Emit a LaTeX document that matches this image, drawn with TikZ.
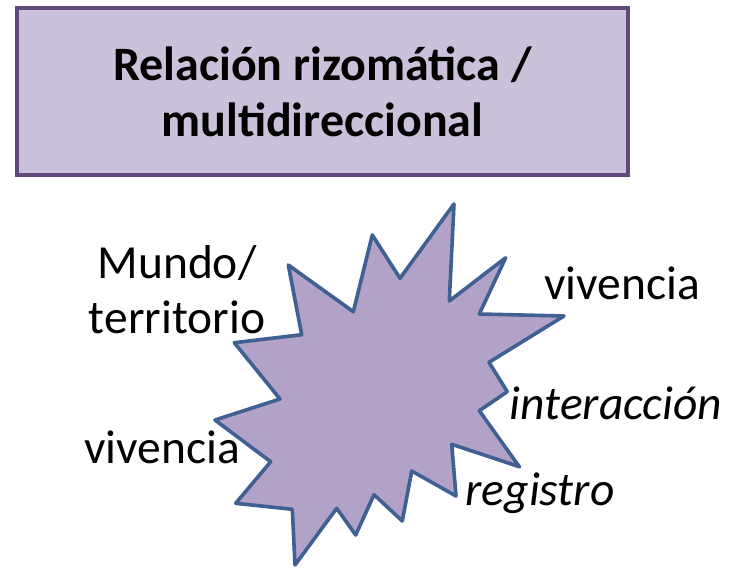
\documentclass[tikz,border=0pt]{standalone}
\usepackage{fontspec}
\setmainfont{Carlito}
\definecolor{boxfill}{HTML}{CCC1DA}
\definecolor{boxline}{HTML}{604A7B}
\definecolor{starfill}{HTML}{B3A2C7}
\definecolor{starline}{HTML}{3E6092}
\tikzset{
  lbl/.style={inner sep=0pt, font=\fontsize{47.5}{55}\selectfont, align=center},
  titlebox/.style={draw=boxline, fill=boxfill, line width=4pt, minimum width=611pt, minimum height=167pt, align=center, font=\fontsize{48}{56}\selectfont\bfseries}
}
\begin{document}
\begin{tikzpicture}[x=1pt,y=-1pt]
\useasboundingbox (0,0) rectangle (738,567);
\node[titlebox] (title) at (322.5,91.5) {Relación rizomática /\\multidireccional};
\draw[starline, fill=starfill, line width=3.6pt, line join=round]
  (454,204) -- (449.3,301) -- (505.7,257.7) -- (479.3,314) -- (564,316) -- (489,362.3)
  -- (507.3,391.7) -- (479.3,410.7) -- (519.3,466.7) -- (451.7,444.3) -- (456,496)
  -- (411.7,471) -- (402.3,521) -- (374,494.7) -- (355.7,535) -- (336.7,508.3)
  -- (295,565) -- (292.3,509.3) -- (235.7,503.3) -- (270.7,461.7) -- (215,420)
  -- (280,399) -- (234.3,342.7) -- (301.7,334.7) -- (288.3,265) -- (353.3,311.7)
  -- (372.3,235) -- (400,278.3) -- cycle;
\node[lbl] (mundo) at (177,290) {Mundo/\\territorio};
\node[lbl] (viv1) at (622,283) {vivencia};
\node[lbl, font=\fontsize{47.5}{55}\selectfont\itshape] (inter) at (616,403) {interacción};
\node[lbl, font=\fontsize{47.5}{55}\selectfont\itshape] (reg) at (540,493) {registro};
\node[lbl] (viv2) at (162,447) {vivencia};
\end{tikzpicture}
\end{document}
